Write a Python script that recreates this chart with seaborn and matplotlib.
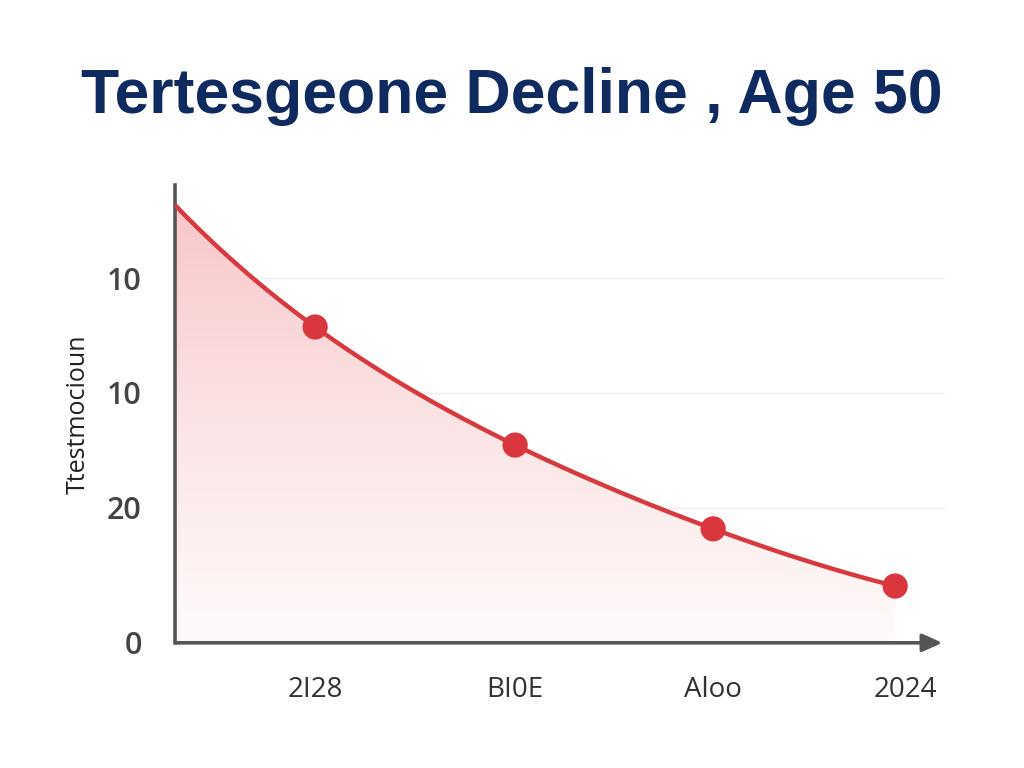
#!/usr/bin/env python3
# -*- coding: utf-8 -*-
"""
Tertesgeone decline chart - smooth red curve with gradient fill
"""

import numpy as np
import seaborn as sns
import matplotlib.pyplot as plt
from matplotlib.colors import LinearSegmentedColormap

# Data (x in axis units, y on a 0-100 scale)
start_x = 0.0
start_y = 95.6
point_x = [1.4, 3.4, 5.38, 7.2]
point_y = [69.0, 43.2, 24.9, 12.4]

xtick_pos = [1.4, 3.4, 5.38, 7.3]
xtick_labels = ['2I28', 'BI0E', 'Aloo', '2024']
ytick_pos = [0, 29.5, 54.6, 79.7]
ytick_labels = ['0', '20', '10', '10']

title = 'Tertesgeone Decline , Age 50'
ylabel = 'Ttestmocioun'

sns.set_theme(style='white')
plt.rcParams['font.family'] = ['Open Sans', 'DejaVu Sans']

fig = plt.figure(figsize=(10.24, 7.68), dpi=100)
ax = fig.add_axes([0.171, 0.163, 0.752, 0.596])

# smooth line through the points (render only)
xs = np.array([start_x] + point_x)
ys = np.array([start_y] + point_y)
coef = np.polyfit(xs, ys, 4)
xx = np.linspace(xs[0], xs[-1], 300)
yy = np.polyval(coef, xx)

# gradient fill under the curve
xmax = 7.7
cmap = LinearSegmentedColormap.from_list('fade', ['#fffafa', '#fbe3e4', '#f8c4c7'])
grad = np.linspace(0, 1, 256).reshape(-1, 1)
im = ax.imshow(grad, aspect='auto', cmap=cmap, origin='lower',
               extent=[0, xs[-1], 0, 100], zorder=1)
poly = ax.fill_between(xx, yy, 0, color='none', lw=0)
clip_path = poly.get_paths()[0]
im.set_clip_path(clip_path, transform=ax.transData)

# gridlines
for yt in ytick_pos[1:]:
    ax.axhline(yt, color='#eeeeee', lw=1.0, zorder=0.5)

sns.lineplot(x=xx, y=yy, ax=ax, color='#d63a3f', lw=3.2, zorder=3)
sns.scatterplot(x=point_x, y=point_y, ax=ax, color='#d9363e', s=330,
                edgecolor='none', zorder=4)

ax.set_xlim(0, xmax)
ax.set_ylim(0, 100)

# axes
for side in ['top', 'right', 'bottom']:
    ax.spines[side].set_visible(False)
ax.spines['left'].set_color('#555555')
ax.spines['left'].set_linewidth(2.6)
ax.annotate('', xy=(xmax, 0), xytext=(-0.01, 0),
            arrowprops=dict(arrowstyle='-|>,head_length=1.0,head_width=0.45',
                            color='#555555', lw=2.6),
            annotation_clip=False, zorder=5)

ax.set_xticks(xtick_pos)
ax.set_xticklabels(xtick_labels, fontsize=20, color='#333333')
ax.set_yticks(ytick_pos)
ax.set_yticklabels(ytick_labels, fontsize=22, color='#444444', fontweight='semibold')
ax.tick_params(axis='x', length=0, pad=24)
ax.tick_params(axis='y', length=0, pad=24)
ax.set_ylabel(ylabel, fontsize=18, color='#222222', labelpad=12)

fig.text(0.5, 0.874, title, ha='center', va='center', fontsize=45,
         fontweight='bold', color='#0f2a5e',
         family=['Liberation Sans', 'DejaVu Sans'])

fig.savefig('out.png', dpi=100, facecolor='white')
plt.close(fig)
